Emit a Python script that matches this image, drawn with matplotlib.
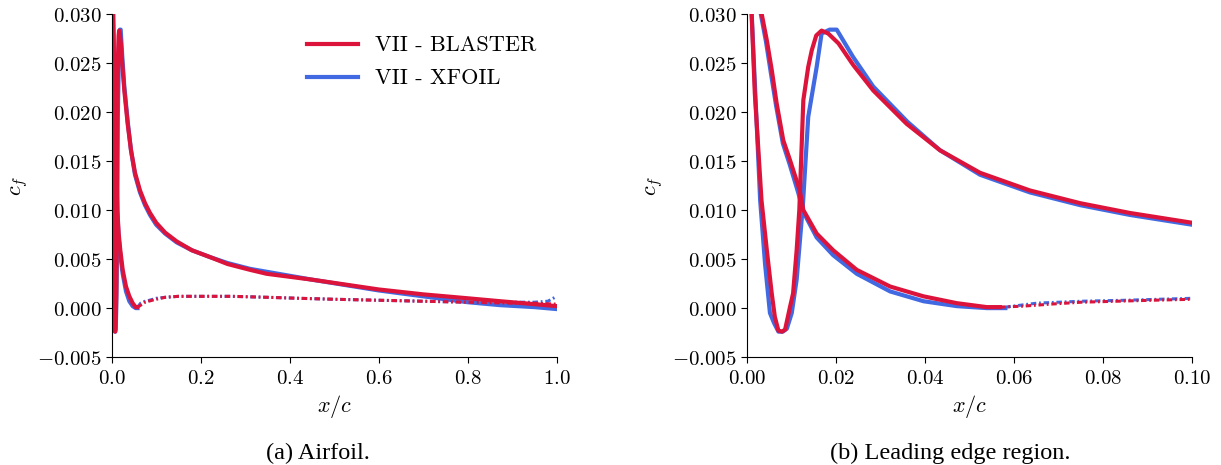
import numpy as np
import matplotlib
matplotlib.use("Agg")
import matplotlib.pyplot as plt
from matplotlib.ticker import FuncFormatter, MultipleLocator

plt.rcParams["mathtext.fontset"] = "cm"

# --- skin friction, suction side (BLASTER / XFOIL) ---
x_up_blaster = [0.0008, 0.0017, 0.0025, 0.0032, 0.0044, 0.0055, 0.0062, 0.0070, 0.0078,
                0.0085, 0.0096, 0.0103, 0.0111, 0.0117, 0.0126, 0.0137, 0.0145, 0.0155,
                0.0167, 0.0182, 0.0205, 0.0238, 0.0283, 0.0358, 0.0433, 0.0523, 0.0635,
                0.0748, 0.086, 0.100, 0.12, 0.146, 0.18, 0.221, 0.26, 0.311, 0.348, 0.45,
                0.6, 0.7, 0.8, 0.873, 0.95, 1.0]
cf_up_blaster = [0.032, 0.0219, 0.0161, 0.0110, 0.0059, 0.0015, -0.0009, -0.0023, -0.0024,
                 -0.0022, 0.0001, 0.0015, 0.0059, 0.0100, 0.0212, 0.0246, 0.0263, 0.0278,
                 0.0283, 0.0280, 0.0270, 0.0248, 0.0222, 0.0188, 0.0161, 0.0138, 0.0120,
                 0.0107, 0.0097, 0.0087, 0.0077, 0.0068, 0.0059, 0.0052, 0.0045, 0.0039,
                 0.0035, 0.0029, 0.0019, 0.0014, 0.0010, 0.0007, 0.0004, 0.0002]

x_up_xfoil = [0.0005, 0.0010, 0.0020, 0.0029, 0.0040, 0.0051, 0.0060, 0.0070, 0.0080,
              0.0089, 0.0100, 0.0111, 0.0125, 0.0137, 0.0156, 0.0167, 0.0185, 0.0201,
              0.0238, 0.0283, 0.036, 0.0433, 0.0523, 0.0635, 0.0748, 0.086, 0.100,
              0.12, 0.146, 0.18, 0.221, 0.26, 0.311, 0.45, 0.6, 0.7, 0.8, 0.873, 0.95, 1.0]
cf_up_xfoil = [0.034, 0.030, 0.020, 0.011, 0.0045, -0.0005, -0.0015, -0.0024, -0.0024,
               -0.0021, -0.0005, 0.0029, 0.0105, 0.0195, 0.0246, 0.0280, 0.0284, 0.0284,
               0.0256, 0.0226, 0.0190, 0.0161, 0.0136, 0.0118, 0.0105, 0.0095, 0.0085,
               0.0076, 0.0067, 0.0059, 0.0052, 0.0046, 0.0040, 0.0029, 0.0018, 0.0012,
               0.0006, 0.0003, 0.0001, -0.0001]

# --- pressure side, attached part ---
x_lo_blaster = [0.0025, 0.0032, 0.0044, 0.0055, 0.0066, 0.0081, 0.0096, 0.0118, 0.0126,
                0.0156, 0.0193, 0.0246, 0.0321, 0.0396, 0.0471, 0.0538, 0.0568]
cf_lo_blaster = [0.034, 0.0301, 0.0273, 0.0243, 0.0209, 0.0171, 0.0151, 0.0120, 0.0100,
                 0.0076, 0.0059, 0.0039, 0.0022, 0.0012, 0.0005, 0.0001, 0.0001]

x_lo_xfoil = [0.0022, 0.0030, 0.0042, 0.0053, 0.0065, 0.0080, 0.0095, 0.0115, 0.0126,
              0.0156, 0.0193, 0.0246, 0.0321, 0.0396, 0.0471, 0.0538, 0.058]
cf_lo_xfoil = [0.034, 0.0301, 0.0272, 0.0240, 0.0206, 0.0168, 0.0147, 0.0117, 0.0098,
               0.0072, 0.0054, 0.0035, 0.0017, 0.0007, 0.0002, 0.0000, 0.0000]

# --- pressure side, aft part ---
x_lo2_blaster = [0.0568, 0.062, 0.068, 0.075, 0.083, 0.091, 0.100, 0.12, 0.15, 0.2, 0.27,
                 0.35, 0.42, 0.5, 0.6, 0.7, 0.8, 0.9, 0.95, 1.0]
cf_lo2_blaster = [0.0001, 0.0002, 0.0004, 0.0006, 0.0007, 0.0008, 0.0009, 0.0011, 0.0012,
                  0.0012, 0.0012, 0.0011, 0.0010, 0.0009, 0.0008, 0.0007, 0.0006, 0.0005,
                  0.0005, 0.0004]

x_lo2_xfoil = [0.058, 0.065, 0.075, 0.085, 0.100, 0.12, 0.15, 0.2, 0.27, 0.35, 0.42, 0.5,
               0.6, 0.7, 0.8, 0.9, 0.95, 0.98, 1.0]
cf_lo2_xfoil = [0.0001, 0.0005, 0.0007, 0.0008, 0.0010, 0.0011, 0.0012, 0.0012, 0.0012,
                0.0011, 0.0010, 0.0009, 0.0008, 0.0007, 0.0006, 0.0006, 0.0006, 0.0007,
                0.0012]

RED = "#DC143C"
BLUE = "#4169E1"
DASHDOT = (0, (1.8, 0.9, 0.6, 0.9))

fig = plt.figure(figsize=(12.21, 4.65), dpi=100)
ax1 = fig.add_axes([0.0915, 0.232, 0.3645, 0.738])
ax2 = fig.add_axes([0.612, 0.232, 0.3645, 0.738])

for ax in (ax1, ax2):
    ax.plot(x_up_xfoil, cf_up_xfoil, color=BLUE, lw=3)
    ax.plot(x_lo_xfoil, cf_lo_xfoil, color=BLUE, lw=3)
    ax.plot(x_lo2_xfoil, cf_lo2_xfoil, color=BLUE, lw=2.2, ls=DASHDOT)
    ax.plot(x_up_blaster, cf_up_blaster, color=RED, lw=3)
    ax.plot(x_lo_blaster, cf_lo_blaster, color=RED, lw=3)
    ax.plot(x_lo2_blaster, cf_lo2_blaster, color=RED, lw=2.2, ls=DASHDOT)
    ax.set_ylim(-0.005, 0.030)
    ax.yaxis.set_major_locator(MultipleLocator(0.005))
    ax.yaxis.set_major_formatter(FuncFormatter(lambda v, p: r"$%.3f$" % v))
    ax.spines["top"].set_visible(False)
    ax.spines["right"].set_visible(False)
    ax.tick_params(labelsize=15, length=4)
    ax.set_xlabel(r"$x/c$", fontsize=16, labelpad=4)
    ax.set_ylabel(r"$c_f$", fontsize=16, labelpad=5)

ax1.set_xlim(0, 1.0)
ax1.xaxis.set_major_locator(MultipleLocator(0.2))
ax1.xaxis.set_major_formatter(FuncFormatter(lambda v, p: r"$%.1f$" % v))
ax2.set_xlim(0, 0.10)
ax2.xaxis.set_major_locator(MultipleLocator(0.02))
ax2.xaxis.set_major_formatter(FuncFormatter(lambda v, p: r"$%.2f$" % v))

h_b, = ax1.plot([], [], color=RED, lw=3, label="VII - BLASTER")
h_x, = ax1.plot([], [], color=BLUE, lw=3, label="VII - XFOIL")
ax1.legend(handles=[h_b, h_x], loc="upper left", bbox_to_anchor=(0.439, 0.936),
           frameon=False, borderpad=0, borderaxespad=0, handlelength=2.3,
           handletextpad=0.75, labelspacing=0.6, prop={"family": "cmr10", "size": 16})

fig.text(0.260, 0.0247, "(a) Airfoil.", ha="center", va="center",
         family="Liberation Serif", fontsize=17.5)
fig.text(0.778, 0.0247, "(b) Leading edge region.", ha="center", va="center",
         family="Liberation Serif", fontsize=17.5)

fig.savefig("out.png", dpi=100)
